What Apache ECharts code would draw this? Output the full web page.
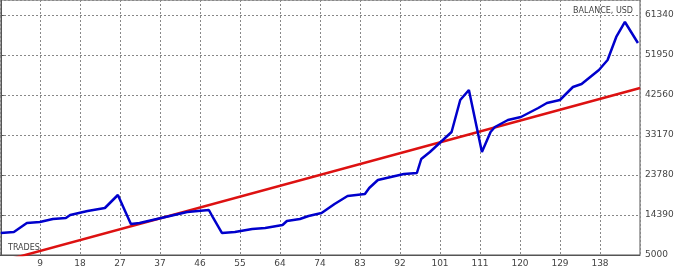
<!DOCTYPE html>
<html>
<head>
<meta charset="utf-8">
<script src="https://cdn.jsdelivr.net/npm/echarts@6/dist/echarts.min.js"></script>
<style>
html,body{margin:0;padding:0;background:#fff;}
#chart{width:680px;height:275px;}
</style>
</head>
<body>
<div id="chart"></div>
<script>
// Trade numbers at the vertices of the balance curve
var balanceTrades = [0, 3, 6, 9, 12, 15, 16, 18, 20, 24, 27, 30, 32, 37, 43, 48, 49, 51, 54, 58, 61, 65, 66, 69, 71, 74, 77, 80, 84, 85, 87, 90, 93, 96, 97, 99, 102, 104, 106, 108, 111, 113, 114, 117, 120, 124, 126, 129, 132, 134, 138, 140, 142, 144, 147];
// Balance, USD at those trades
var balanceValues = [10165, 10399, 12512, 12747, 13451, 13686, 14390, 14860, 15329, 16033, 19085, 12277, 12512, 13686, 15094, 15564, 13686, 10165, 10399, 11104, 11338, 12043, 12982, 13451, 14155, 14860, 16972, 18850, 19320, 20728, 22606, 23311, 24015, 24250, 27536, 29179, 31996, 33874, 41386, 43734, 29179, 33874, 35048, 36691, 37396, 39508, 40682, 41386, 44438, 45142, 48429, 50776, 56175, 59697, 54767];
// Trend line end points
var trendTrades = [0, 147.5];
var trendValues = [3450, 44200];
// Axis ticks
var xTickLabels = ['9', '18', '27', '37', '46', '55', '64', '74', '83', '92', '101', '111', '120', '129', '138'];
var yTickLabels = ['5000', '14390', '23780', '33170', '42560', '51950', '61340'];

var xMin = -0.2, xStep = 9.23, xMax = xMin + 16 * xStep;
var yMin = 5000, yStep = 9390, yMax = 64860;

function zip(a, b) { return a.map(function (v, i) { return [v, b[i]]; }); }

var chart = echarts.init(document.getElementById('chart'), null, {renderer: 'canvas'});
var labelFont = 'DejaVu Sans';
chart.setOption({
  animation: false,
  backgroundColor: '#ffffff',
  grid: {left: 0, right: 40, top: 0, bottom: 20, show: true, borderColor: '#555', borderWidth: 1, backgroundColor: '#ffffff'},
  xAxis: {
    type: 'value', min: xMin, max: xMax, interval: xStep,
    axisLine: {show: true, lineStyle: {color: '#555', width: 1}},
    axisTick: {show: false},
    splitLine: {show: true, lineStyle: {color: '#888', type: [2, 2], width: 1}},
    axisLabel: {
      color: '#444', fontSize: 9, fontFamily: labelFont, margin: 4,
      showMinLabel: false, showMaxLabel: false,
      formatter: function (v) {
        var idx = Math.round((v - xMin) / xStep);
        return xTickLabels[idx - 1] || '';
      }
    }
  },
  yAxis: {
    type: 'value', position: 'right', min: yMin, max: yMax, interval: yStep,
    axisLine: {show: true, lineStyle: {color: '#555', width: 1}},
    axisTick: {show: true, length: 3, lineStyle: {color: '#555'}},
    splitLine: {show: true, lineStyle: {color: '#888', type: [2, 2], width: 1}},
    axisLabel: {
      color: '#444', fontSize: 9, fontFamily: labelFont, margin: 5,
      showMaxLabel: false,
      formatter: function (v) {
        var idx = Math.round((v - yMin) / yStep);
        return yTickLabels[idx] || '';
      }
    }
  },
  series: [
    {
      type: 'line', data: zip(trendTrades, trendValues), symbol: 'none', clip: true,
      lineStyle: {color: '#dd1111', width: 2.5}, z: 3
    },
    {
      type: 'line', data: zip(balanceTrades, balanceValues), symbol: 'none', clip: true,
      lineStyle: {color: '#0000cc', width: 2.5}, z: 4
    }
  ],
  graphic: [
    {type: 'text', right: 47, top: 7, style: {text: 'BALANCE, USD', fill: '#444', font: '8px ' + labelFont}},
    {type: 'text', left: 8, top: 244, style: {text: 'TRADES', fill: '#444', font: '8px ' + labelFont}}
  ]
});
</script>
</body>
</html>
